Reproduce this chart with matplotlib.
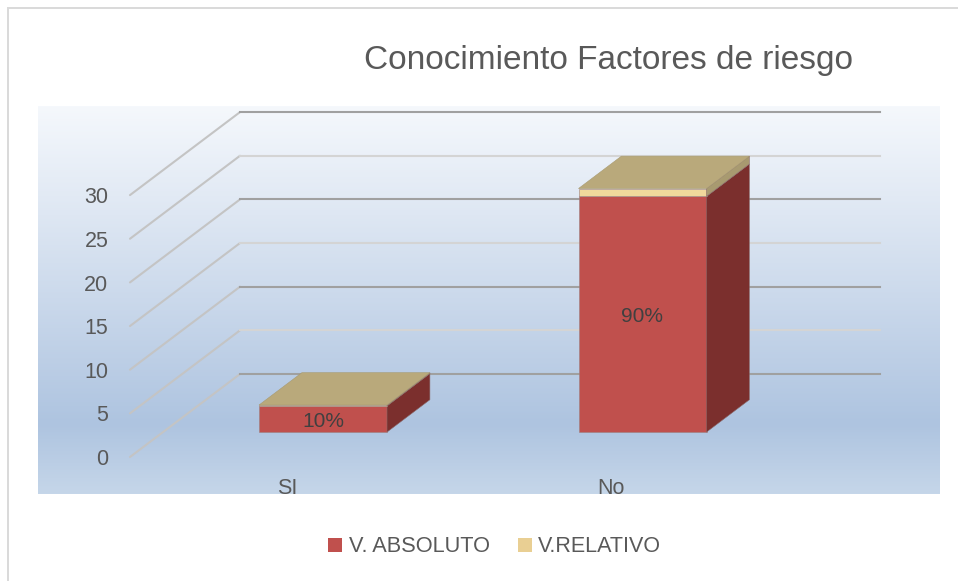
"""
Conocimiento Factores de riesgo - 3D style stacked columns drawn in an oblique projection.
"""
import numpy as np
import matplotlib
matplotlib.use("Agg")
import matplotlib.pyplot as plt
from matplotlib.patches import Polygon, Rectangle

plt.rcParams["font.family"] = ["Liberation Sans", "DejaVu Sans"]

categories = ["SI", "No"]
v_absoluto = [3, 27]
v_relativo = [0.1, 0.9]
bar_labels = ["10%", "90%"]
y_ticks = [0, 5, 10, 15, 20, 25, 30]
series_names = ["V. ABSOLUTO", "V.RELATIVO"]
title = "Conocimiento Factores de riesgo"

W, H = 958, 581
RED, RED_SIDE = "#c0504d", "#7b2f2d"
TAN_TOP, TAN_FRONT, TAN_SIDE = "#b9a97b", "#f0d99c", "#a89a70"
TEXT = "#595959"

# oblique depth: one unit of depth moves this much in data units
DEPTH_X = 110 / 319.5
DEPTH_Y = 83 / 8.73
BAR_W = 128 / 319.5
BAR_D0, BAR_D1 = 0.30, 0.69


def proj(x, v, d):
    return x + d * DEPTH_X, v + d * DEPTH_Y


def box(ax, x, v0, v1, front, side, top, z):
    xl, xr = x - BAR_W / 2, x + BAR_W / 2
    ax.add_patch(Polygon([proj(xl, v0, BAR_D0), proj(xr, v0, BAR_D0),
                          proj(xr, v1, BAR_D0), proj(xl, v1, BAR_D0)],
                         fc=front, ec="#9c8080", lw=0.4, zorder=z))
    ax.add_patch(Polygon([proj(xr, v0, BAR_D0), proj(xr, v0, BAR_D1),
                          proj(xr, v1, BAR_D1), proj(xr, v1, BAR_D0)],
                         fc=side, ec="#8a6a6a", lw=0.4, zorder=z))
    if top is not None:
        ax.add_patch(Polygon([proj(xl, v1, BAR_D0), proj(xr, v1, BAR_D0),
                              proj(xr, v1, BAR_D1), proj(xl, v1, BAR_D1)],
                             fc=top, ec="#a89a70", lw=0.4, zorder=z + 1))


fig = plt.figure(figsize=(W / 100, H / 100), dpi=100, facecolor="white")

# outer chart frame
frame = fig.add_axes([0, 0, 1, 1])
frame.set_xlim(0, W)
frame.set_ylim(H, 0)
frame.axis("off")
frame.set_zorder(-1)
frame.add_patch(Rectangle((8.5, 8), W, H, fc="white", ec="#d9d9d9", lw=1.4))

ax = fig.add_axes([38 / W, 1 - 494 / H, 902 / W, 388 / H])
ax.set_xlim((38 - 323) / 319.5, (940 - 323) / 319.5)
ax.set_ylim((457 - 494) / 8.73, (457 - 106) / 8.73)
ax.axis("off")

# background gradient of the plot band
stops = np.array([[245, 248, 252], [222, 231, 243], [174, 196, 224], [197, 214, 233]]) / 255
pos = np.linspace(0, 1, 388)
grad = np.stack([np.interp(pos, [0, 0.28, 0.82, 1], stops[:, i]) for i in range(3)], axis=1)
ax.imshow(grad[:, None, :], extent=[*ax.get_xlim(), *ax.get_ylim()], origin="upper",
          aspect="auto", zorder=0)

x_left = (130 - 323) / 319.5
x_right = (770 - 323) / 319.5
for i, t in enumerate(y_ticks):
    dark = i % 2 == 0
    ax.plot(*zip(proj(x_left, t, 0), proj(x_left, t, 1)), color="#c4c4c4", lw=1.5, zorder=1,
            solid_capstyle="round")
    ax.plot(*zip(proj(x_left, t, 1), proj(x_right, t, 1)), color="#a0a0a0" if dark else "#d4d4d4",
            lw=1.5, zorder=1)
    ax.text(x_left - 0.068, t - 0.3, str(t), ha="right", va="center", fontsize=15.5, color=TEXT, zorder=5)

for i, cat in enumerate(categories):
    a, r = v_absoluto[i], v_relativo[i]
    x = i - BAR_D0 * DEPTH_X
    box(ax, x, 0, a, RED, RED_SIDE, None, 2)
    box(ax, x, a, a + r, TAN_FRONT, TAN_SIDE, TAN_TOP, 3)
    px, py = proj(x, a / 2, BAR_D0)
    ax.text(px, py - 0.3, bar_labels[i], ha="center", va="center", fontsize=15, color="#404040", zorder=6)
    ax.text(i - 0.112 + 0.012 * i, -3.6, cat, ha="center", va="center", fontsize=15.5, color=TEXT, zorder=6)

fig.text(608 / W, 1 - 60 / H, title, ha="center", va="center", fontsize=24, color="#595959")

# legend
legend = fig.add_axes([0, 0, 1, 1], facecolor="none")
legend.set_xlim(0, W)
legend.set_ylim(H, 0)
legend.axis("off")
legend.add_patch(Rectangle((328, 538), 14, 14, fc=RED, ec="none"))
legend.add_patch(Rectangle((518, 538), 14, 14, fc="#e9cf93", ec="none"))
legend.text(349, 547, series_names[0], ha="left", va="center", fontsize=15.7, color=TEXT)
legend.text(538, 547, series_names[1], ha="left", va="center", fontsize=15.5, color=TEXT)

fig.savefig("out.png", dpi=100)
plt.close(fig)
